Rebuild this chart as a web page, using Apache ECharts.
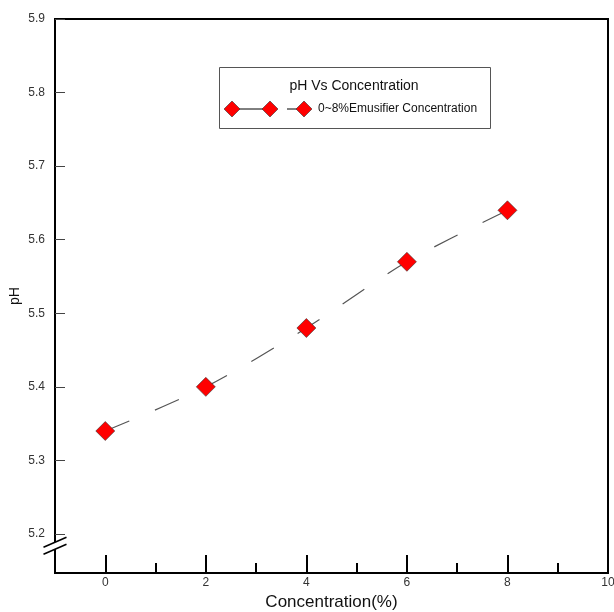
<!DOCTYPE html>
<html>
<head>
<meta charset="utf-8">
<script src="https://cdn.jsdelivr.net/npm/echarts@6.0.0/dist/echarts.min.js"></script>
<style>html,body{margin:0;padding:0;background:#fff;}#c{width:614px;height:612px;}</style>
</head>
<body>
<div id="c"></div>
<script>
const concentration = [0, 2, 4, 6, 8];
const phValues = [5.34, 5.40, 5.48, 5.57, 5.64];
const yTicks = [5.2, 5.3, 5.4, 5.5, 5.6, 5.7, 5.8, 5.9];
const xMajorTicks = [0, 2, 4, 6, 8, 10];
const xMinorTicks = [1, 3, 5, 7, 9];
const seriesName = '0~8%Emusifier Concentration';
const legendTitle = 'pH Vs Concentration';

const FONT = 'Liberation Sans, Arial, sans-serif';
const chart = echarts.init(document.getElementById('c'), null, {renderer: 'canvas'});

const option = {
  animation: false,
  backgroundColor: '#fff',
  grid: {left: 55, right: 6, top: 19, bottom: 39, outerBoundsMode: 'none', containLabel: false,
    show: true, borderColor: '#000', borderWidth: 2, backgroundColor: 'transparent'},
  xAxis: [{
    type: 'value', min: -1, max: 10, position: 'bottom',
    axisLine: {show: true, onZero: false, lineStyle: {color: '#000', width: 2}},
    axisTick: {show: true, inside: true, length: 18, customValues: xMajorTicks, lineStyle: {color: '#000', width: 2}},
    axisLabel: {show: true, customValues: xMajorTicks, fontSize: 12, color: '#333', margin: 4, fontFamily: FONT},
    splitLine: {show: false},
    name: 'Concentration(%)', nameLocation: 'middle', nameGap: 21, nameMoveOverlap: false,
    nameTextStyle: {fontSize: 17, color: '#111', fontFamily: FONT}
  }, {
    type: 'value', min: -1, max: 10, position: 'bottom',
    axisLine: {show: false},
    axisTick: {show: true, inside: true, length: 10, customValues: xMinorTicks, lineStyle: {color: '#000', width: 2}},
    axisLabel: {show: false},
    splitLine: {show: false}
  }],
  yAxis: {
    type: 'value', min: 5.147, max: 5.9, position: 'left',
    axisLine: {show: true, onZero: false, lineStyle: {color: '#000', width: 2}},
    axisTick: {show: true, inside: true, length: 10, customValues: yTicks, lineStyle: {color: '#444', width: 1}},
    axisLabel: {show: true, customValues: yTicks, fontSize: 12, color: '#333', margin: 10, fontFamily: FONT,
      formatter: v => Number(v).toFixed(1)},
    splitLine: {show: false},
    name: 'pH', nameLocation: 'middle', nameGap: 33, nameRotate: 90, nameMoveOverlap: false,
    nameTextStyle: {fontSize: 14, color: '#111', fontFamily: FONT}
  },
  series: [{
    name: seriesName,
    type: 'line',
    xAxisIndex: 0,
    data: concentration.map((c, i) => [c, phValues[i]]),
    smooth: 0.3,
    symbol: 'diamond',
    symbolSize: 19,
    itemStyle: {color: '#ff0000', borderColor: '#333', borderWidth: 0.6},
    lineStyle: {color: '#555', width: 1.2, type: [26, 28]},
    z: 3
  }]
};
chart.setOption(option);

// axis break glyph and legend box
const bx = chart.convertToPixel({xAxisIndex: 0}, -1);
const by = chart.convertToPixel({yAxisIndex: 0}, 5.184);
const dx = 11.5, dy = 5;
const gap = 3.5;
chart.setOption({
  graphic: [
    {type: 'polygon', z: 100, shape: {points: [[bx - dx, by - gap + dy], [bx + dx, by - gap - dy], [bx + dx, by + gap - dy], [bx - dx, by + gap + dy]]},
      style: {fill: '#fff'}},
    {type: 'line', z: 101, shape: {x1: bx - dx, y1: by - gap + dy, x2: bx + dx, y2: by - gap - dy}, style: {stroke: '#000', lineWidth: 1.6}},
    {type: 'line', z: 101, shape: {x1: bx - dx, y1: by + gap + dy, x2: bx + dx, y2: by + gap - dy}, style: {stroke: '#000', lineWidth: 1.6}},
    {type: 'group', z: 100, children: [
      {type: 'rect', shape: {x: 219.5, y: 67.5, width: 271, height: 61}, style: {fill: '#fff', stroke: '#555', lineWidth: 1}},
      {type: 'text', x: 354, y: 86, style: {text: legendTitle, font: '14px ' + FONT, fill: '#111', align: 'center', verticalAlign: 'middle'}},
      {type: 'line', shape: {x1: 238, y1: 109, x2: 264, y2: 109}, style: {stroke: '#000', lineWidth: 1}},
      {type: 'line', shape: {x1: 287, y1: 109, x2: 298, y2: 109}, style: {stroke: '#000', lineWidth: 1}},
      {type: 'polygon', shape: {points: [[232, 101], [240, 109], [232, 117], [224, 109]]}, style: {fill: '#ff0000', stroke: '#333', lineWidth: 0.6}},
      {type: 'polygon', shape: {points: [[270, 101], [278, 109], [270, 117], [262, 109]]}, style: {fill: '#ff0000', stroke: '#333', lineWidth: 0.6}},
      {type: 'polygon', shape: {points: [[304, 101], [312, 109], [304, 117], [296, 109]]}, style: {fill: '#ff0000', stroke: '#333', lineWidth: 0.6}},
      {type: 'text', x: 318, y: 109, style: {text: seriesName, font: '12px ' + FONT, fill: '#111', align: 'left', verticalAlign: 'middle'}}
    ]}
  ]
});
</script>
</body>
</html>
